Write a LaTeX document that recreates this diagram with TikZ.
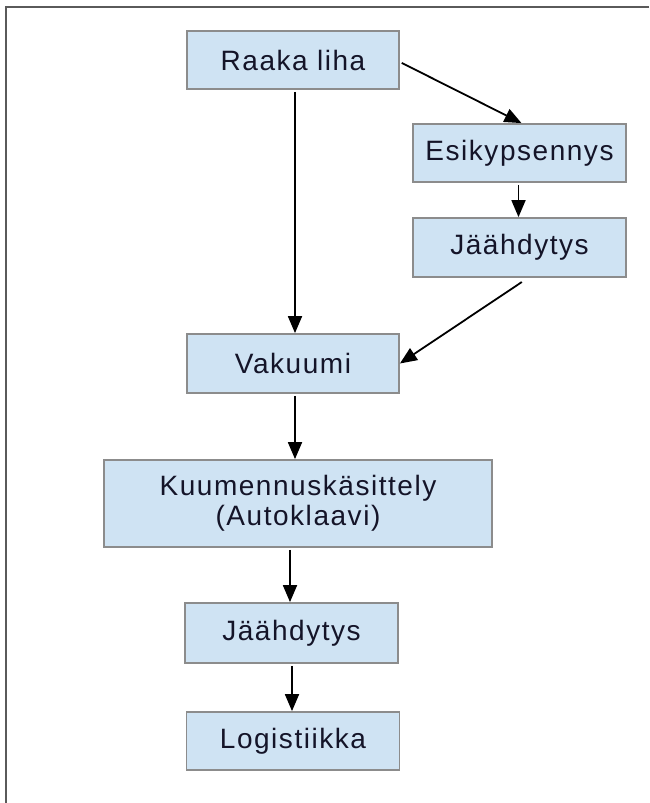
\documentclass[tikz,border=0pt]{standalone}
\usepackage{fontspec}
\setmainfont[LetterSpace=5.5]{Liberation Sans}
\usetikzlibrary{arrows.meta}
\definecolor{boxfill}{HTML}{CFE3F3}
\definecolor{boxdraw}{HTML}{8C8C8C}
\definecolor{txt}{HTML}{141428}
\definecolor{framecol}{HTML}{5A5A5A}
\tikzset{
  stepbox/.style={draw=boxdraw, fill=boxfill, line width=1.8pt, inner sep=0pt,
    text=txt, font=\fontsize{28}{30}\selectfont, align=center},
  flow/.style={draw=black, line width=1.8pt, shorten <=2pt,
    -{Triangle[length=17pt,width=14pt]}}
}
\begin{document}
\begin{tikzpicture}[x=1pt,y=-1pt]
\useasboundingbox (0,0) rectangle (649,803);
\draw[framecol, line width=1.8pt] (649,7) -- (6,7) -- (6,803);
\node[stepbox, minimum width=212pt, minimum height=58pt] (raaka) at (293,60) {Raaka liha};
\node[stepbox, minimum width=213pt, minimum height=58pt] (esik) at (519.5,153) {Esikypsennys};
\node[stepbox, minimum width=213pt, minimum height=59pt] (jaa1) at (519.5,247.5) {Jäähdytys};
\node[stepbox, minimum width=212pt, minimum height=59pt] (vak) at (293,363.5) {Vakuumi};
\node[stepbox, minimum width=388pt, minimum height=87pt] (kuum) at (298,503.5) {Kuumennuskäsittely\\(Autoklaavi)};
\node[stepbox, minimum width=213pt, minimum height=60pt] (jaa2) at (291.5,633) {Jäähdytys};
\node[stepbox, minimum width=213pt, minimum height=58pt] (logi) at (293,741) {Logistiikka};
\draw[flow] ([xshift=2pt]raaka.south) -- ([xshift=2pt]vak.north);
\draw[flow] ([yshift=-2pt]raaka.east) -- ([xshift=2pt]esik.north);
\draw[flow] ([xshift=-1pt]esik.south) -- ([xshift=-1pt]jaa1.north);
\draw[flow] ([xshift=4pt,yshift=-3pt]jaa1.south) -- (vak.east);
\draw[flow] ([xshift=2pt]vak.south) -- ([xshift=-3pt]kuum.north);
\draw[flow] ([xshift=-8pt]kuum.south) -- ([xshift=-1.5pt]jaa2.north);
\draw[flow] ([xshift=0.5pt]jaa2.south) -- ([xshift=-1pt]logi.north);
\end{tikzpicture}
\end{document}
